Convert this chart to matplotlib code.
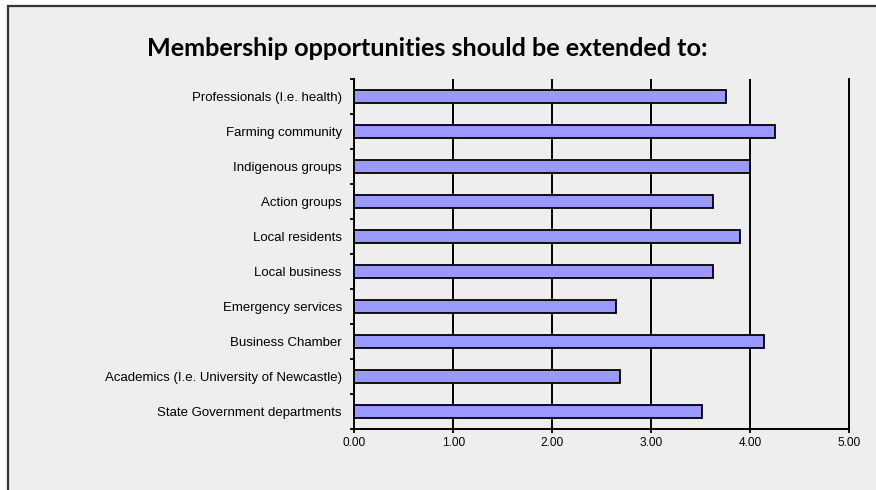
import matplotlib
matplotlib.use("Agg")
import matplotlib.pyplot as plt
from matplotlib.patches import Rectangle
import numpy as np

categories = [
    "Professionals (I.e. health)",
    "Farming community",
    "Indigenous groups",
    "Action groups",
    "Local residents",
    "Local business",
    "Emergency services",
    "Business Chamber",
    "Academics (I.e. University of Newcastle)",
    "State Government departments",
]
values = [3.76, 4.25, 4.00, 3.63, 3.90, 3.63, 2.65, 4.14, 2.69, 3.52]
x_ticks = [0, 1, 2, 3, 4, 5]
x_tick_labels = ["0.00", "1.00", "2.00", "3.00", "4.00", "5.00"]
title = "Membership opportunities should be extended to:"

W, H = 876, 490
fig = plt.figure(figsize=(W / 100, H / 100), dpi=100)
fig.patch.set_facecolor("white")

# outer chart frame
frame = Rectangle((8 / W, -0.1), 1.2, 1.1 - 6 / H, transform=fig.transFigure,
                  facecolor="#eeeeee", edgecolor="#333333", linewidth=1.6, zorder=-5)
fig.patches.append(frame)

left, right = 354.3 / W, 848.7 / W
top, bottom = 1 - 79 / H, 1 - 429 / H
ax = fig.add_axes([left, bottom, right - left, top - bottom])
ax.set_facecolor("none")
ax.set_zorder(2)

n = len(categories)
ypos = np.arange(n)
ax.barh(ypos, values, height=0.39, color="#9999ff", edgecolor="black",
        linewidth=1.3, zorder=3)

ax.set_xlim(0, 5)
ax.set_ylim(n - 0.5, -0.5)

ax.set_xticks(x_ticks)
ax.set_xticklabels(x_tick_labels, fontsize=8.6, family="Liberation Sans")
ax.tick_params(axis="x", direction="out", length=3, width=1.3, pad=2.5, color="black")

ax.set_yticks(ypos)
ax.set_yticklabels(categories, fontsize=9.5, family="Liberation Sans")
ax.tick_params(axis="y", which="major", length=0, pad=9)
ax.set_yticks(np.arange(n + 1) - 0.5, minor=True)
ax.tick_params(axis="y", which="minor", direction="out", length=3, width=1.3, color="black")

ax.grid(axis="x", color="black", linewidth=1.4, zorder=1)
ax.set_axisbelow(True)
ax.spines["top"].set_visible(False)
ax.spines["right"].set_linewidth(1.4)
for s in ["left", "bottom"]:
    ax.spines[s].set_linewidth(1.4)
    ax.spines[s].set_color("black")
    ax.spines[s].set_zorder(4)

fig.text(427.5 / W, 1 - 48 / H, title, ha="center", va="center",
         fontsize=18.2, fontweight="bold", family="Lato", color="black", zorder=3)

fig.savefig("out.png", dpi=100, facecolor=fig.get_facecolor())
